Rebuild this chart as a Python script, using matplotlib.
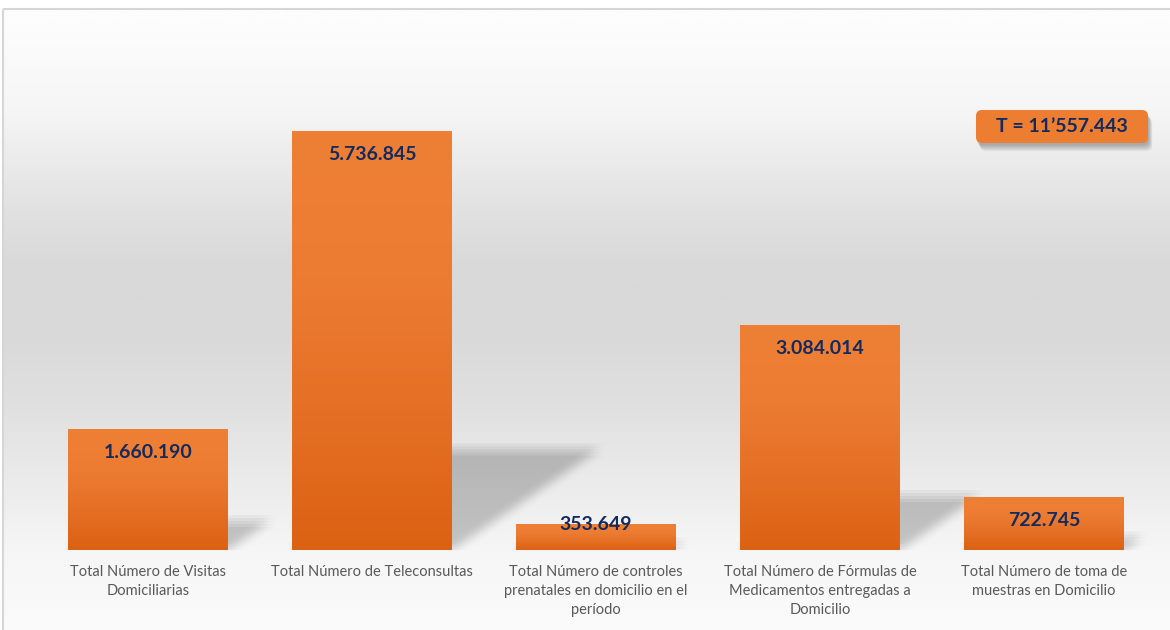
import numpy as np
import matplotlib.pyplot as plt
from matplotlib import transforms
from matplotlib.patches import Rectangle, FancyBboxPatch, Polygon

# data
categories = [
    "Total Número de Visitas\nDomiciliarias",
    "Total Número de Teleconsultas",
    "Total Número de controles\nprenatales en domicilio en el\nperíodo",
    "Total Número de Fórmulas de\nMedicamentos entregadas a\nDomicilio",
    "Total Número de toma de\nmuestras en Domicilio",
]
values = [1660190, 5736845, 353649, 3084014, 722745]
value_labels = ["1.660.190", "5.736.845", "353.649", "3.084.014", "722.745"]
total_label = "T = 11\u2019557.443"

W, H = 1170, 630
navy = "#132A5E"
plt.rcParams['font.family'] = ['Lato', 'DejaVu Sans']

fig = plt.figure(figsize=(W / 100, H / 100), dpi=100)
fig.patch.set_facecolor('white')

# background panel in pixel coords (y downwards)
bg = fig.add_axes([0, 0, 1, 1])
bg.set_xlim(0, W)
bg.set_ylim(H, 0)
bg.axis('off')
ys = np.arange(H)
stops_y = [0, 10, 100, 200, 260, 330, 400, 500, 550, 630]
stops_v = [253, 253, 246, 226, 217, 217, 224, 238, 246, 251]
grey = np.interp(ys, stops_y, stops_v) / 255.0
img = np.repeat(grey[:, None], 2, axis=1)
bg.imshow(np.dstack([img, img, img]), extent=[3, W + 5, H, 9], aspect='auto',
          interpolation='bilinear', zorder=0)
bg.add_patch(Rectangle((3, 9), W, H, fill=False, edgecolor='#d6d6d6', lw=1.5, zorder=1))

# total box with soft shadow
for k in range(10):
    off = 1 + k * 0.7
    bg.add_patch(FancyBboxPatch((976 + off * 0.6, 110 + off + 1), 172, 33,
                                boxstyle="round,pad=0,rounding_size=6",
                                facecolor='black', edgecolor='none', alpha=0.03, zorder=2))
bg.add_patch(FancyBboxPatch((976, 110), 172, 33, boxstyle="round,pad=0,rounding_size=6",
                            facecolor='#ED7D31', edgecolor='none', zorder=3))
bg.text(1062, 127, total_label, ha='center', va='center', fontsize=14,
        fontweight='bold', color=navy, zorder=4)

# main chart
ax = fig.add_axes([36 / W, 80 / H, 1120 / W, 540 / H])
ax.patch.set_alpha(0)
for s in ax.spines.values():
    s.set_visible(False)

vmax = max(values)
ymax = vmax * 540 / 419
bw = 160 / 224
x = np.arange(len(values))

# gradient for the bars
cols = np.array([[220, 98, 19], [229, 112, 38], [236, 124, 50], [238, 128, 54]]) / 255.0
pos = np.linspace(0, 1, 100)
grad = np.stack([np.interp(pos, [0, 0.35, 0.65, 1], cols[:, c]) for c in range(3)], axis=1)
grad = grad[:, None, :]

rng = [(dx, dy) for dx in np.linspace(-6, 6, 5) for dy in np.linspace(-6, 6, 5)]
for xi, v in zip(x, values):
    x0, x1 = xi - bw / 2, xi + bw / 2
    # perspective shadow
    sdx = 0.66 * v / vmax
    sdy = 0.24 * v
    pts = [(x0, 0), (x1, 0), (x1 + sdx, sdy), (x0 + sdx, sdy)]
    for ox, oy in rng:
        tr = transforms.offset_copy(ax.transData, fig, x=ox, y=oy, units='dots')
        ax.add_patch(Polygon(pts, closed=True, facecolor='black', edgecolor='none',
                             alpha=0.009, transform=tr, zorder=1))
    bar = ax.bar(xi, v, width=bw, color='none', edgecolor='none', zorder=2)[0]
    im = ax.imshow(grad, extent=[x0, x1, 0, v], origin='lower', aspect='auto',
                   interpolation='bilinear', zorder=2)
    im.set_clip_path(bar)

ax.set_xlim(-0.5, len(values) - 0.5)
ax.set_ylim(0, ymax)

# value labels
px_per_unit = 419 / vmax
for xi, v, lab in zip(x, values, value_labels):
    if v * px_per_unit > 40:
        ax.annotate(lab, (xi, v), xytext=(0, -11), textcoords='offset points',
                    ha='center', va='top', fontsize=14, fontweight='bold',
                    color=navy, zorder=5)
    else:
        ax.annotate(lab, (xi, v), xytext=(0, 0), textcoords='offset points',
                    ha='center', va='center', fontsize=14, fontweight='bold',
                    color=navy, zorder=5)

ax.set_yticks([])
ax.set_xticks(x)
ax.set_xticklabels(categories, fontsize=10.5, color='#595959', linespacing=1.45)
ax.tick_params(axis='x', length=0, pad=11)

fig.savefig('out.png', dpi=100)
